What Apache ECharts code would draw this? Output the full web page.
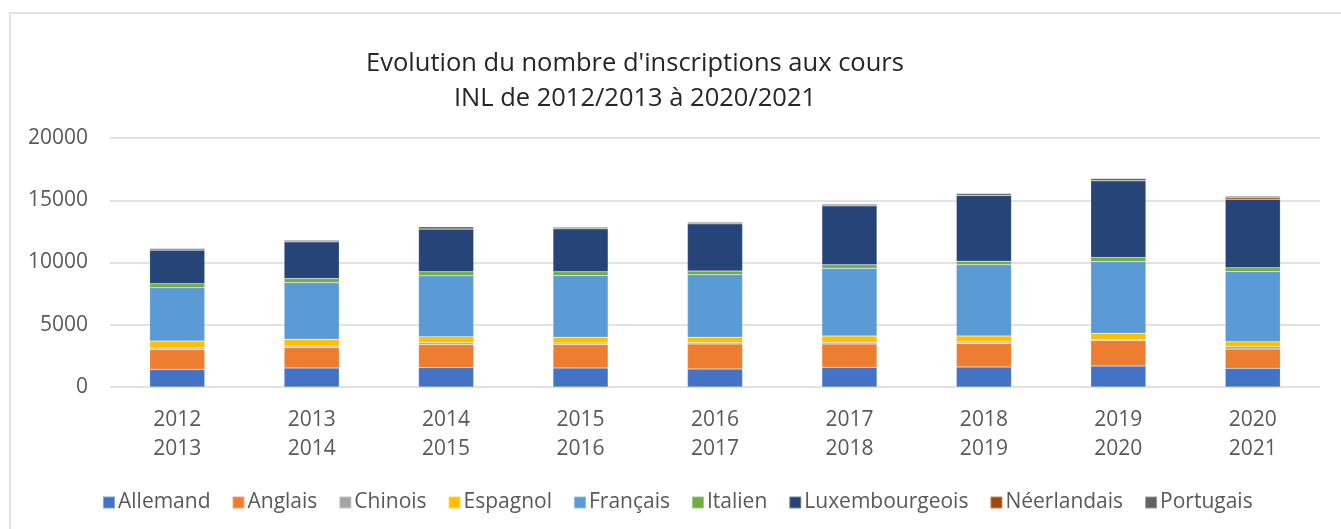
<!DOCTYPE html>
<html>
<head>
<meta charset="utf-8">
<script src="https://cdn.jsdelivr.net/npm/echarts@6/dist/echarts.min.js"></script>
<style>
  html, body { margin: 0; padding: 0; background: #fff; }
  #chart { width: 1341px; height: 529px; }
</style>
</head>
<body>
<div id="chart"></div>
<script>
var years = ['2012\n2013', '2013\n2014', '2014\n2015', '2015\n2016', '2016\n2017',
  '2017\n2018', '2018\n2019', '2019\n2020', '2020\n2021']

var allemand = [1400, 1530, 1550, 1530, 1450, 1580, 1610, 1690, 1500]
var anglais = [1600, 1630, 1850, 1870, 2010, 1880, 1880, 2040, 1550]
var chinois = [130, 130, 160, 130, 110, 130, 130, 80, 190]
var espagnol = [560, 540, 480, 460, 430, 510, 480, 510, 400]
var francais = [4290, 4560, 4900, 4960, 5010, 5440, 5710, 5760, 5630]
var italien = [320, 320, 320, 300, 300, 270, 300, 320, 300]
var luxembourgeois = [2700, 2950, 3430, 3460, 3800, 4740, 5280, 6160, 5520]
var neerlandais = [0, 0, 0, 0, 0, 0, 0, 0, 110]
var portugais = [130, 130, 190, 130, 130, 130, 160, 190, 130]

var yTicks = [0, 5000, 10000, 15000, 20000]

var seriesList = [
  { name: 'Allemand', data: allemand, color: '#4472C4' },
  { name: 'Anglais', data: anglais, color: '#ED7D31' },
  { name: 'Chinois', data: chinois, color: '#A5A5A5' },
  { name: 'Espagnol', data: espagnol, color: '#FFC000' },
  { name: 'Français', data: francais, color: '#5B9BD5' },
  { name: 'Italien', data: italien, color: '#70AD47' },
  { name: 'Luxembourgeois', data: luxembourgeois, color: '#264478' },
  { name: 'Néerlandais', data: neerlandais, color: '#9E480E' },
  { name: 'Portugais', data: portugais, color: '#636363' }
]

var font = '"Open Sans", "Noto Sans", sans-serif'
var myChart = echarts.init(document.getElementById('chart'))
var option = {
  animation: false,
  textStyle: { fontFamily: font },
  title: {
    text: 'Evolution du nombre d\'inscriptions aux cours\nINL de 2012/2013 à 2020/2021',
    left: 630,
    textAlign: 'center',
    top: 41,
    textStyle: { fontFamily: font, fontSize: 25.5, fontWeight: 'normal', color: '#262626', lineHeight: 35 }
  },
  graphic: [{
    type: 'rect',
    silent: true,
    shape: { x: 10, y: 13, width: 1400, height: 600 },
    style: { fill: 'none', stroke: '#d9d9d9', lineWidth: 1.5 }
  }],
  legend: {
    data: seriesList.map(function (s) { return s.name }),
    left: 97,
    top: 487,
    icon: 'rect',
    itemWidth: 12,
    itemHeight: 12,
    itemGap: 21,
    textStyle: { fontFamily: font, fontSize: 21, color: '#595959', padding: [0, 0, 0, -2] }
  },
  grid: {
    left: 110,
    right: 21,
    top: 138,
    bottom: 142,
    containLabel: false
  },
  xAxis: {
    type: 'category',
    data: years,
    axisLine: { show: false },
    axisTick: { show: false },
    axisLabel: { fontFamily: font, fontSize: 21, color: '#595959', lineHeight: 29, margin: 19 }
  },
  yAxis: {
    type: 'value',
    min: yTicks[0],
    max: yTicks[yTicks.length - 1],
    interval: 5000,
    axisLine: { show: false },
    axisTick: { show: false },
    axisLabel: {
      fontFamily: font, fontSize: 21, color: '#595959', margin: 22,
      formatter: function (v) { return String(v) }
    },
    splitLine: { lineStyle: { color: '#d9d9d9', width: 1.5 } }
  },
  series: seriesList.map(function (s) {
    return {
      name: s.name,
      type: 'bar',
      stack: 'total',
      data: s.data,
      barWidth: '41%',
      itemStyle: { color: s.color, borderColor: 'rgba(255,255,255,0.35)', borderWidth: 0.5 }
    }
  })
}
myChart.setOption(option)
</script>
</body>
</html>
